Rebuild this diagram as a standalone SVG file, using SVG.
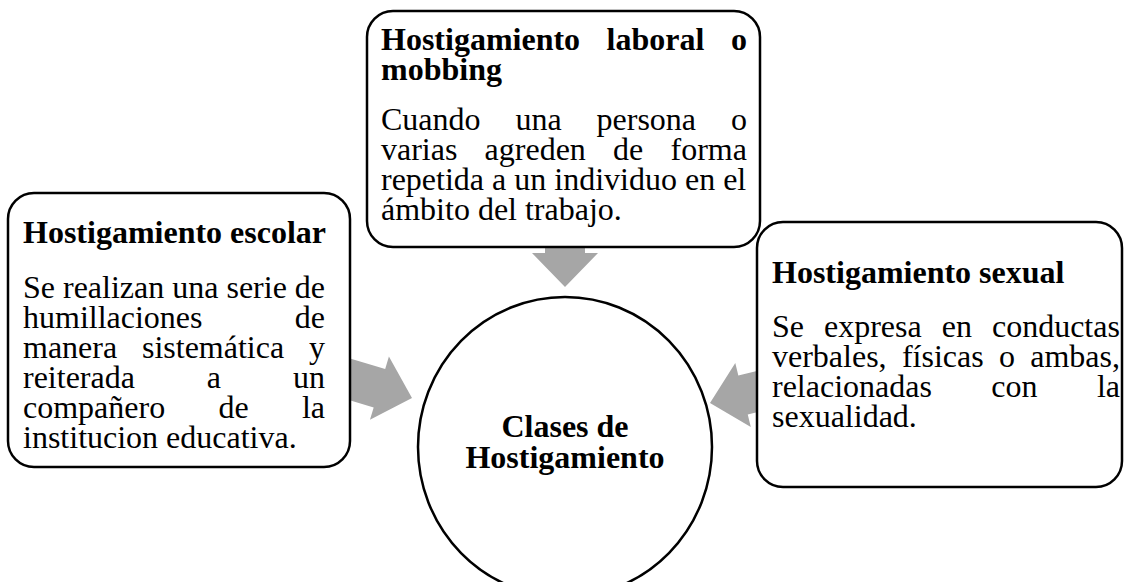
<svg xmlns="http://www.w3.org/2000/svg" width="1125" height="582" viewBox="0 0 1125 582">
<style>
.box{fill:#fff;stroke:#000;stroke-width:2.5}
.arr{fill:#a6a6a6;stroke:none}
text{font-family:"Liberation Serif","Times New Roman",serif;font-size:32px;fill:#000}
.b{font-weight:bold}
.c{text-anchor:middle}
</style>
<defs>
<polygon id="ah" points="0,0 -34,-33 -34,-20 -110,-20 -110,20 -34,20 -34,33"/>
</defs>
<rect width="1125" height="582" fill="#fff"/>
<g id="connectors">
<use href="#ah" class="arr" transform="translate(565,287) rotate(90)"/>
<use href="#ah" class="arr" transform="translate(412,398) rotate(16.7)"/>
<use href="#ah" class="arr" transform="translate(710,403) rotate(166.4)"/>
</g>
<g id="node-center">
<ellipse class="box" cx="565" cy="447" rx="147" ry="150"/>
<text class="b c" x="565" y="437">Clases de</text>
<text class="b c" x="565" y="468">Hostigamiento</text>
</g>
<g id="node-escolar">
<rect class="box" x="8" y="193" width="342" height="274" rx="26"/>
<text class="b" x="23" y="243">Hostigamiento escolar</text>
<text x="23" y="298">Se realizan una serie de</text>
<text x="23" y="328" word-spacing="84.2">humillaciones de</text>
<text x="23" y="358" word-spacing="16.8">manera sistemática y</text>
<text x="23" y="388" word-spacing="63.9">reiterada a un</text>
<text x="23" y="418" word-spacing="45.3">compañero de la</text>
<text x="23" y="448">institucion educativa.</text>
</g>
<g id="node-laboral">
<rect class="box" x="367" y="11" width="393" height="236" rx="26"/>
<text class="b" x="381" y="50" word-spacing="18.5">Hostigamiento laboral o</text>
<text class="b" x="381" y="80">mobbing</text>
<text x="381" y="130" word-spacing="26.9">Cuando una persona o</text>
<text x="381" y="160" word-spacing="19.2">varias agreden de forma</text>
<text x="381" y="190">repetida a un individuo en el</text>
<text x="381" y="220">ámbito del trabajo.</text>
</g>
<g id="node-sexual">
<rect class="box" x="757" y="222" width="365" height="265" rx="26"/>
<text class="b" x="772" y="283">Hostigamiento sexual</text>
<text x="772" y="337" word-spacing="12">Se expresa en conductas</text>
<text x="772" y="367" word-spacing="7.3">verbales, físicas o ambas,</text>
<text x="772" y="397" word-spacing="51.4">relacionadas con la</text>
<text x="772" y="427">sexualidad.</text>
</g>
</svg>
